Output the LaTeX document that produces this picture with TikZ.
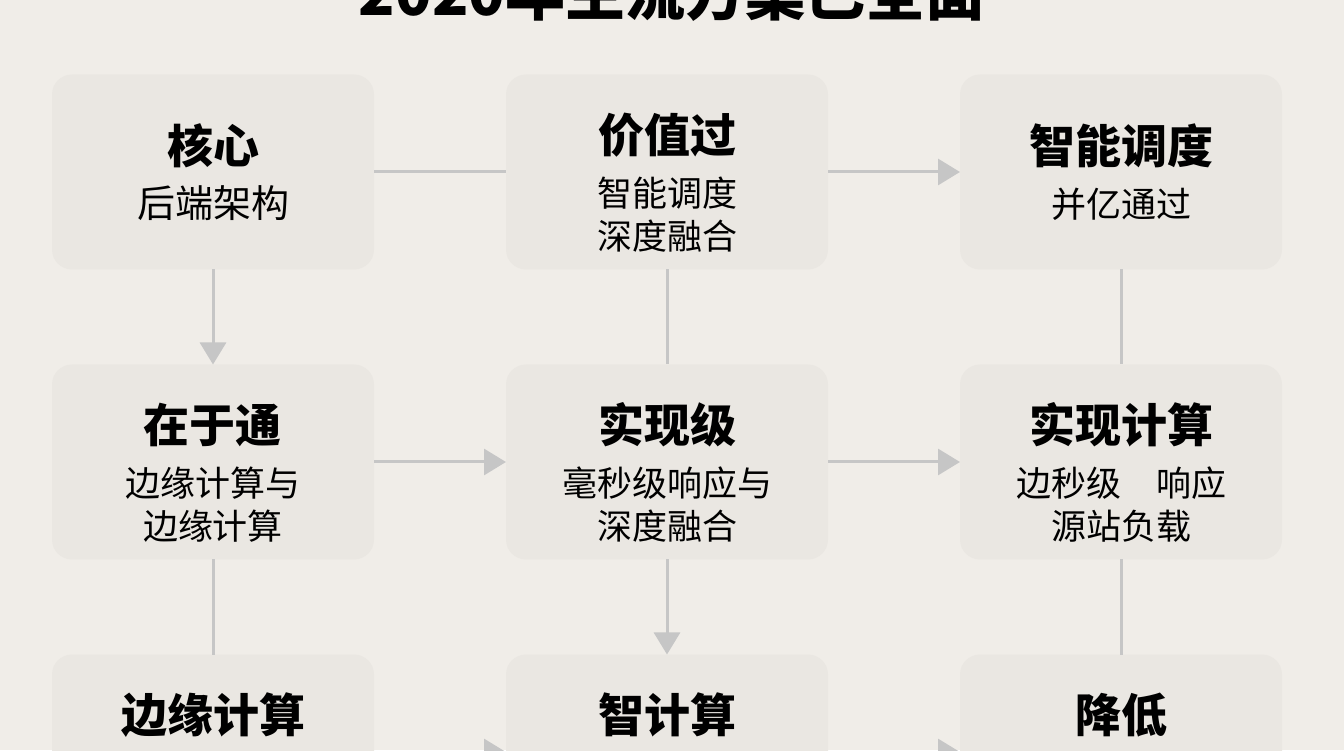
\documentclass[tikz,border=0pt]{standalone}
\usepackage{fontspec}
\usepackage{tikz}
\usetikzlibrary{positioning,arrows.meta}
\newfontfamily\cjk{Noto Sans CJK SC}
\definecolor{paper}{RGB}{240,237,232}
\definecolor{cardfill}{RGB}{234,231,226}
\definecolor{linkgray}{RGB}{198,198,198}
\newcommand{\cardtext}[3][0pt]{{\fontsize{23}{27}\selectfont\bfseries\rule{0pt}{#1}#2}\\[5.5pt]#3}

\begin{document}
\begin{tikzpicture}[x=1pt,y=1pt,node distance=47.5pt and 66pt]
\tikzstyle{every node}=[font=\cjk]
\tikzstyle{card}=[fill=cardfill,rounded corners=10pt,minimum width=161pt,minimum height=97.5pt,inner sep=0pt,outer sep=0pt,align=center,font=\cjk\fontsize{17.5}{21.5}\selectfont]
\tikzstyle{linkline}=[draw=linkgray,line width=1.5pt]
\tikzstyle{flowarrow}=[linkline,-{Triangle[width=13pt,length=11pt]}]

\fill[paper] (0,0) rectangle (672,375);
\useasboundingbox (0,0) rectangle (672,375);
\node[anchor=base,font=\cjk\fontsize{30}{36}\selectfont\bfseries] (title) at (336,367) {2020年主流方案已全面};

\node[card] (hexin) at (106.5,289) {\cardtext{核心}{\fontsize{19}{22}\selectfont 后端架构}};
\node[card,right=of hexin] (jiazhi) {\cardtext[30pt]{价值过}{智能调度\\深度融合}};
\node[card,right=of jiazhi] (diaodu) {\cardtext{智能调度}{并亿通过}};

\node[card,below=of hexin] (zaiyu) {\cardtext[30pt]{在于通}{边缘计算与\\边缘计算}};
\node[card,below=of jiazhi] (shixianji) {\cardtext[30pt]{实现级}{毫秒级响应与\\深度融合}};
\node[card,below=of diaodu] (shixianjs) {\cardtext[30pt]{实现计算}{边秒级　响应\\源站负载}};

\node[card,below=of zaiyu] (bianyuan) {\cardtext[30pt]{边缘计算}{\phantom{边缘计算}\\\phantom{边缘计算}}};
\node[card,below=of shixianji] (zhijs) {\cardtext[30pt]{智计算}{\phantom{边缘计算}\\\phantom{边缘计算}}};
\node[card,below=of shixianjs] (jiangdi) {\cardtext[30pt]{降低}{\phantom{边缘计算}\\\phantom{边缘计算}}};

\draw[linkline] (hexin) -- (jiazhi);
\draw[flowarrow] (jiazhi) -- (diaodu);
\draw[flowarrow] (hexin) -- (zaiyu);
\draw[linkline] (jiazhi) -- (shixianji);
\draw[linkline] (diaodu) -- (shixianjs);
\draw[flowarrow] (zaiyu) -- (shixianji);
\draw[flowarrow] (shixianji) -- (shixianjs);
\draw[linkline] (zaiyu) -- (bianyuan);
\draw[flowarrow] (shixianji) -- (zhijs);
\draw[linkline] (shixianjs) -- (jiangdi);
\draw[flowarrow] (bianyuan) -- (zhijs);
\draw[flowarrow] (zhijs) -- (jiangdi);
\end{tikzpicture}
\end{document}
